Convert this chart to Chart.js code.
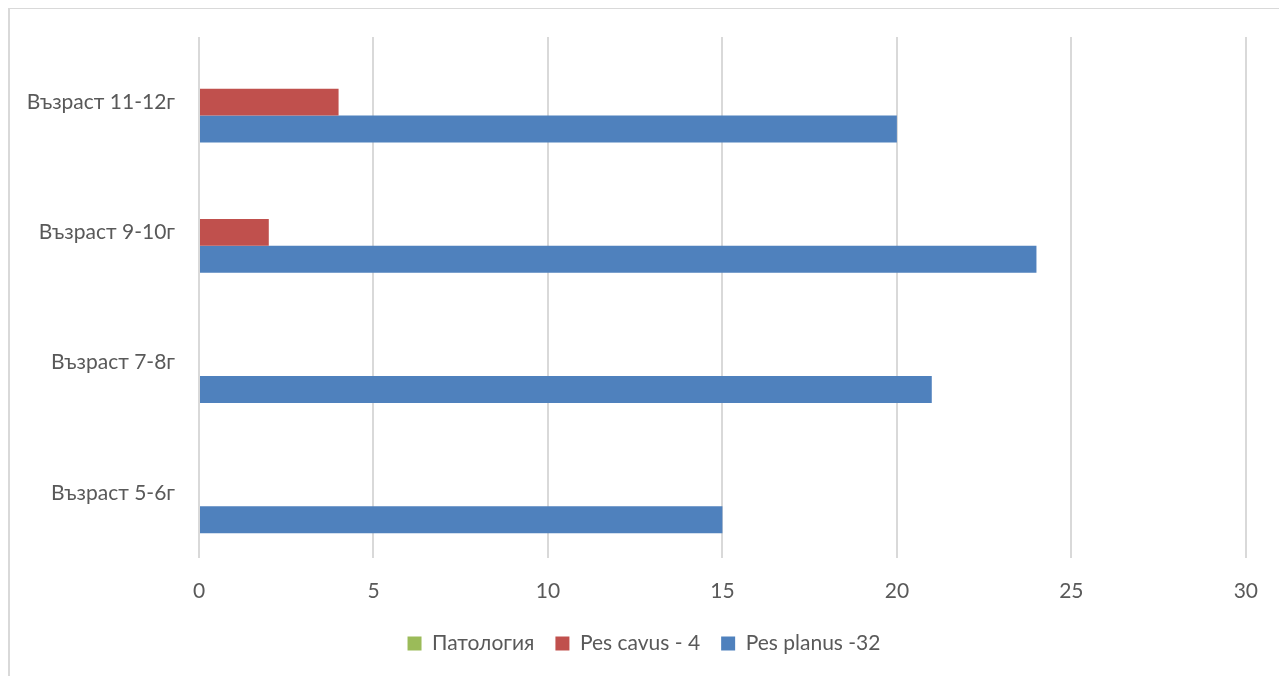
<!DOCTYPE html>
<html>
<head>
<meta charset="utf-8">
<script src="https://cdn.jsdelivr.net/npm/chart.js@4"></script>
<style>
  html, body { margin: 0; padding: 0; background: #fff; }
  #wrap { position: relative; width: 1279px; height: 676px; overflow: hidden; }
  #frame { position: absolute; left: 8px; top: 8px; width: 1400px; height: 800px;
           border-left: 2px solid #d9d9d9; border-top: 1px solid #d9d9d9; }
  canvas { position: absolute; left: 0; top: 0; }
</style>
</head>
<body>
<div id="wrap">
  <div id="frame"></div>
  <canvas id="chart" width="1279" height="676"></canvas>
</div>
<script>
// categories, bottom to top as in the picture
const ageGroups = ['Възраст 5-6г', 'Възраст 7-8г', 'Възраст 9-10г', 'Възраст 11-12г'];
const pathology = [0, 0, 0, 0];
const pesCavus = [0, 0, 2, 4];
const pesPlanus = [15, 21, 24, 20];
const xTicks = [0, 5, 10, 15, 20, 25, 30];

const textColor = '#595959';
const gridColor = '#d9d9d9';
const labelFont = { family: 'Lato, "Open Sans", sans-serif', size: 21 };

// the legend in the original sits a bit right of the canvas centre
const legendShift = {
    id: 'legendShift',
    afterLayout(chart) {
        chart.legend.left += 40;
    }
};

const ctx = document.getElementById('chart').getContext('2d');
new Chart(ctx, {
    type: 'bar',
    data: {
        labels: ageGroups,
        datasets: [
            { label: 'Патология', data: pathology, backgroundColor: '#9BBB59' },
            { label: 'Pes cavus - 4', data: pesCavus, backgroundColor: '#C0504D' },
            { label: 'Pes planus -32', data: pesPlanus, backgroundColor: '#4F81BD' }
        ]
    },
    plugins: [legendShift],
    options: {
        indexAxis: 'y',
        responsive: false,
        animation: false,
        datasets: {
            bar: { categoryPercentage: 0.62, barPercentage: 1.0 }
        },
        layout: { padding: { left: 0, right: 31, top: 37, bottom: 12 } },
        plugins: {
            title: { display: false },
            tooltip: { enabled: false },
            legend: {
                position: 'bottom',
                labels: {
                    color: textColor,
                    font: labelFont,
                    boxWidth: 14,
                    boxHeight: 14,
                    padding: 21
                }
            }
        },
        scales: {
            x: {
                min: 0,
                max: 30,
                afterBuildTicks: s => { s.ticks = xTicks.map(v => ({ value: v })); },
                grid: { color: gridColor, lineWidth: 2, drawTicks: false },
                border: { display: false },
                ticks: { color: textColor, font: labelFont, padding: 21 },
                afterFit: s => { s.height = 54; }
            },
            y: {
                reverse: true,
                grid: { display: false, drawTicks: false },
                border: { display: false },
                ticks: { color: textColor, font: labelFont, padding: 24 },
                afterFit: s => { s.width = 199; }
            }
        }
    }
});
</script>
</body>
</html>
